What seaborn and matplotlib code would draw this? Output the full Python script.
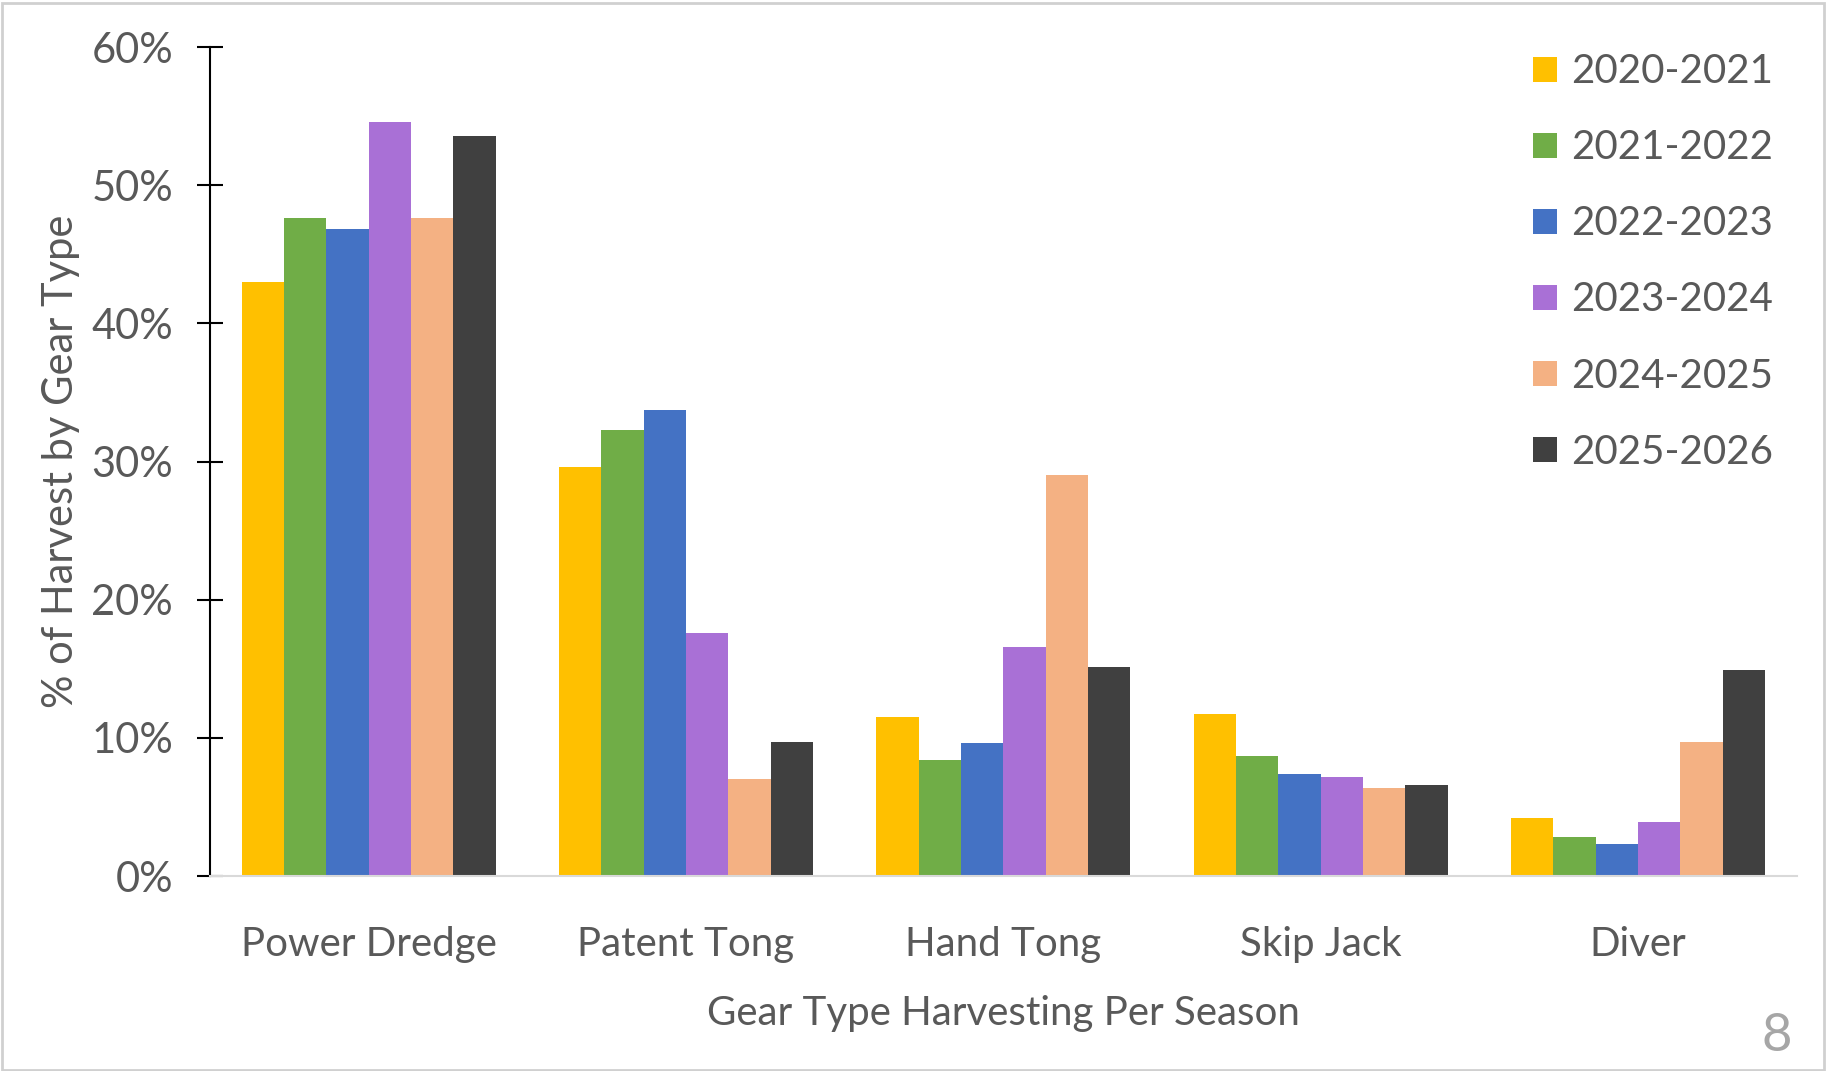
# Oyster harvest share by gear type, per season

import pandas as pd
import numpy as np
import matplotlib.pyplot as plt
import seaborn as sns
from matplotlib.ticker import PercentFormatter
from matplotlib.patches import Rectangle


# DATA (percent of harvest)
gear_types = ["Power Dredge", "Patent Tong", "Hand Tong", "Skip Jack", "Diver"]
seasons = ["2020-2021", "2021-2022", "2022-2023", "2023-2024", "2024-2025", "2025-2026"]

s_2020_2021 = [43.0, 29.6, 11.5, 11.7, 4.2]
s_2021_2022 = [47.6, 32.3, 8.4, 8.7, 2.8]
s_2022_2023 = [46.8, 33.7, 9.6, 7.4, 2.3]
s_2023_2024 = [54.6, 17.6, 16.6, 7.2, 3.9]
s_2024_2025 = [47.6, 7.0, 29.0, 6.4, 9.7]
s_2025_2026 = [53.6, 9.7, 15.1, 6.6, 14.9]

season_colors = ["#FFC000", "#70AD47", "#4472C4", "#A970D6", "#F4B183", "#404040"]

y_ticks = [0, 10, 20, 30, 40, 50, 60]


# long form table for seaborn
series = [s_2020_2021, s_2021_2022, s_2022_2023, s_2023_2024, s_2024_2025, s_2025_2026]
rows = []
for season, vals in zip(seasons, series):
    for gear, v in zip(gear_types, vals):
        rows.append({"Gear": gear, "Season": season, "Pct": v})
df = pd.DataFrame(rows)


# STYLE
sns.set_style("white")
plt.rcParams["font.family"] = ["Lato", "DejaVu Sans"]
text_color = "#595959"

fig = plt.figure(figsize=(18.26, 10.71), dpi=100)
ax = fig.add_axes([0.115, 0.182, 0.869, 0.774])

sns.barplot(
    data=df, x="Gear", y="Pct", hue="Season",
    order=gear_types, hue_order=seasons,
    palette=season_colors, width=0.8, gap=0,
    saturation=1, linewidth=0, ax=ax
)

ax.set_xlim(-0.5, 4.5)
ax.set_ylim(0, 60)
ax.set_yticks(y_ticks)
ax.yaxis.set_major_formatter(PercentFormatter(decimals=0))

# axes look (Excel style)
for side in ["top", "right"]:
    ax.spines[side].set_visible(False)
ax.spines["left"].set_color("black")
ax.spines["left"].set_linewidth(1.5)
ax.spines["bottom"].set_color("#D9D9D9")
ax.spines["bottom"].set_linewidth(1.5)

ax.tick_params(axis="y", direction="inout", length=19, width=1.5,
               color="black", labelsize=30, labelcolor=text_color, pad=17, left=True)
ax.tick_params(axis="x", length=0, labelsize=29, labelcolor=text_color, pad=36)

ax.set_xlabel("Gear Type Harvesting Per Season", fontsize=29, color=text_color, labelpad=23)
ax.set_ylabel("% of Harvest by Gear Type", fontsize=30, color=text_color, labelpad=8)

leg = ax.legend(
    loc="upper right", bbox_to_anchor=(0.995, 1.012), frameon=False,
    fontsize=29, handlelength=0.58, handleheight=0.58, handletextpad=0.35,
    labelspacing=0.97, borderaxespad=0
)
for t in leg.get_texts():
    t.set_color(text_color)

# page number and slide frame
fig.text(0.973, 0.032, "8", fontsize=38, color="#A6A6A6", ha="center", va="center")
fig.patches.append(Rectangle((0.001, 0.001), 0.998, 0.996, transform=fig.transFigure,
                             fill=False, edgecolor="#D0D0D0", linewidth=2))

fig.savefig("out.png", dpi=100)
